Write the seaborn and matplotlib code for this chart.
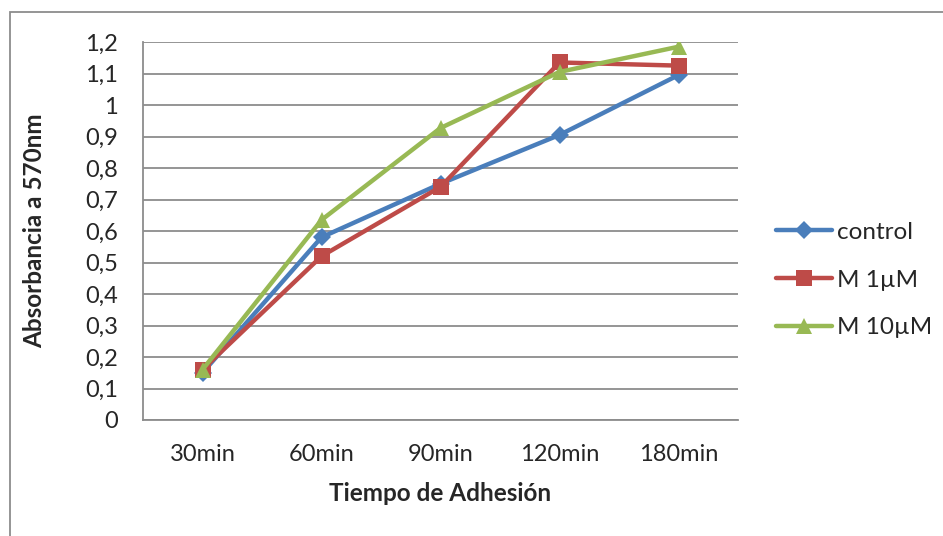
import matplotlib
matplotlib.use("Agg")
import matplotlib.pyplot as plt
import seaborn as sns
import pandas as pd
from matplotlib.patches import Rectangle

categories = ["30min", "60min", "90min", "120min", "180min"]
control = [0.15, 0.58, 0.75, 0.905, 1.095]
m1 = [0.16, 0.52, 0.74, 1.135, 1.125]
m10 = [0.16, 0.635, 0.927, 1.105, 1.185]
series_names = ["control", "M 1µM", "M 10µM"]
yticks = [0, 0.1, 0.2, 0.3, 0.4, 0.5, 0.6, 0.7, 0.8, 0.9, 1.0, 1.1, 1.2]
ytick_labels = ["0", "0,1", "0,2", "0,3", "0,4", "0,5", "0,6", "0,7", "0,8", "0,9", "1", "1,1", "1,2"]

rows = []
for name, vals in zip(series_names, [control, m1, m10]):
    for i, (c, v) in enumerate(zip(categories, vals)):
        rows.append({"pos": i, "cat": c, "serie": name, "val": v})
df = pd.DataFrame(rows)

sns.set_style("white")
plt.rcParams["font.family"] = ["Lato", "DejaVu Sans"]

fig = plt.figure(figsize=(9.43, 5.36), dpi=100)
ax = fig.add_axes([143/943, 1-420/536, (738-143)/943, (420-42)/536])

palette = {"control": "#4A7EBB", "M 1µM": "#BE4B48", "M 10µM": "#98B954"}
markers = {"control": "D", "M 1µM": "s", "M 10µM": "^"}
sizes_m = {"control": 9, "M 1µM": 11, "M 10µM": 12}

for name in series_names:
    sub = df[df["serie"] == name]
    sns.lineplot(data=sub, x="pos", y="val", ax=ax, color=palette[name],
                 marker=markers[name], markersize=sizes_m[name], linewidth=3.2,
                 markeredgewidth=0, label=name, zorder=3)

fs = 17
fl = 17.5
ax.set_xlim(-0.5, 4.5)
ax.set_ylim(0, 1.2)
ax.set_xticks(range(len(categories)))
ax.set_xticklabels(categories, fontsize=fs)
ax.set_yticks(yticks)
ax.set_yticklabels(ytick_labels, fontsize=fs)
ax.tick_params(axis="y", length=0, pad=18)
ax.tick_params(axis="x", length=0, pad=17)
ax.grid(axis="y", color="#8C8C8C", linewidth=1.3)
ax.set_axisbelow(True)
for s in ["top", "right"]:
    ax.spines[s].set_visible(False)
for s in ["left", "bottom"]:
    ax.spines[s].set_color("#8C8C8C")
    ax.spines[s].set_linewidth(1.3)

ax.set_xlabel("Tiempo de Adhesión", fontsize=fl, fontweight="bold")
ax.set_ylabel("Absorbancia a 570nm", fontsize=fl, fontweight="bold")
ax.xaxis.set_label_coords(0.5, -0.165)
ax.yaxis.set_label_coords(-0.163, 0.5)

leg = ax.legend(loc="center left", bbox_to_anchor=(776/943, 1-280/536),
                bbox_transform=fig.transFigure, frameon=False, borderpad=0,
                borderaxespad=0, fontsize=fl, handlelength=2.3,
                handletextpad=0.2, labelspacing=1.11)

fig.patches.append(Rectangle((10/943, -0.1), 1.2, 1.1 - 12/536, transform=fig.transFigure,
                             fill=False, edgecolor="#8C8C8C", linewidth=1.3))

fig.savefig("out.png", dpi=100)
